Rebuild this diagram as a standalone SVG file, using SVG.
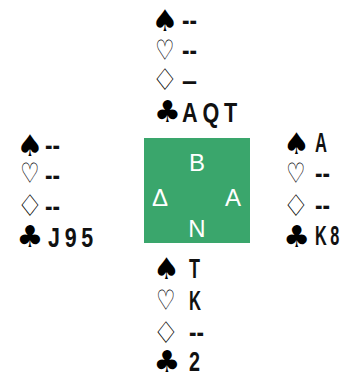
<svg xmlns="http://www.w3.org/2000/svg" width="350" height="373" viewBox="0 0 350 373">
<style>
.s{font-family:"DejaVu Sans",sans-serif;font-size:30px;text-anchor:middle;fill:#000}
.h{font-family:"DejaVu Sans",sans-serif;font-size:28px;text-anchor:middle;fill:#000}
.t{font-family:"Liberation Sans",Arial,sans-serif;font-size:27px;font-weight:bold;fill:#111}
.c{font-family:"Liberation Sans",Arial,sans-serif;font-size:24px;fill:#fff;text-anchor:middle}
</style>
<rect width="350" height="373" fill="#fff"/>
<g id="north">
<text class="s" x="165" y="31">♠</text>
<text class="h" transform="translate(165,60) scale(0.78,1)">♡</text>
<text class="s" x="165" y="90">♢</text>
<text class="s" x="167.5" y="122">♣</text>
<text class="t" x="182" y="30" textLength="15" lengthAdjust="spacingAndGlyphs">--</text>
<text class="t" x="182" y="60" textLength="15" lengthAdjust="spacingAndGlyphs">--</text>
<text class="t" x="182" y="90" textLength="15" lengthAdjust="spacingAndGlyphs">–</text>
<text class="t" x="182" y="121.5" textLength="60" lengthAdjust="spacingAndGlyphs" letter-spacing="6">AQT</text>
</g>
<g id="west">
<text class="s" x="30" y="156">♠</text>
<text class="h" transform="translate(30,183) scale(0.78,1)">♡</text>
<text class="s" x="30" y="216">♢</text>
<text class="s" x="30" y="247">♣</text>
<text class="t" x="45" y="155" textLength="15" lengthAdjust="spacingAndGlyphs">--</text>
<text class="t" x="45" y="185" textLength="15" lengthAdjust="spacingAndGlyphs">--</text>
<text class="t" x="45" y="216" textLength="15" lengthAdjust="spacingAndGlyphs">--</text>
<text class="t" x="48" y="246.5" textLength="50" lengthAdjust="spacingAndGlyphs" letter-spacing="6">J95</text>
</g>
<g id="east">
<text class="s" x="296.5" y="153.5">♠</text>
<text class="h" transform="translate(296,183) scale(0.78,1)">♡</text>
<text class="s" x="296" y="216">♢</text>
<text class="s" x="296.7" y="246.5">♣</text>
<text class="t" x="315" y="151.7" textLength="12" lengthAdjust="spacingAndGlyphs">A</text>
<text class="t" x="315" y="183" textLength="15" lengthAdjust="spacingAndGlyphs">--</text>
<text class="t" x="315" y="215" textLength="15" lengthAdjust="spacingAndGlyphs">--</text>
<text class="t" x="315" y="245" textLength="28" lengthAdjust="spacingAndGlyphs" letter-spacing="6">K8</text>
</g>
<g id="south">
<text class="s" x="166.5" y="279">♠</text>
<text class="h" transform="translate(166,310) scale(0.78,1)">♡</text>
<text class="s" x="166" y="343">♢</text>
<text class="s" x="167" y="372">♣</text>
<text class="t" x="189" y="278" textLength="11" lengthAdjust="spacingAndGlyphs">T</text>
<text class="t" x="189" y="310" textLength="12" lengthAdjust="spacingAndGlyphs">K</text>
<text class="t" x="189" y="342" textLength="15" lengthAdjust="spacingAndGlyphs">--</text>
<text class="t" x="189" y="371" textLength="11" lengthAdjust="spacingAndGlyphs">2</text>
</g>
<g id="table">
<rect x="144" y="138" width="106" height="105" fill="#3aa66c"/>
<text class="c" x="197" y="171">B</text>
<text class="c" x="160" y="206">Δ</text>
<text class="c" x="233" y="206">A</text>
<text class="c" x="197" y="237">N</text>
</g>
<g id="connectors"/>
</svg>
